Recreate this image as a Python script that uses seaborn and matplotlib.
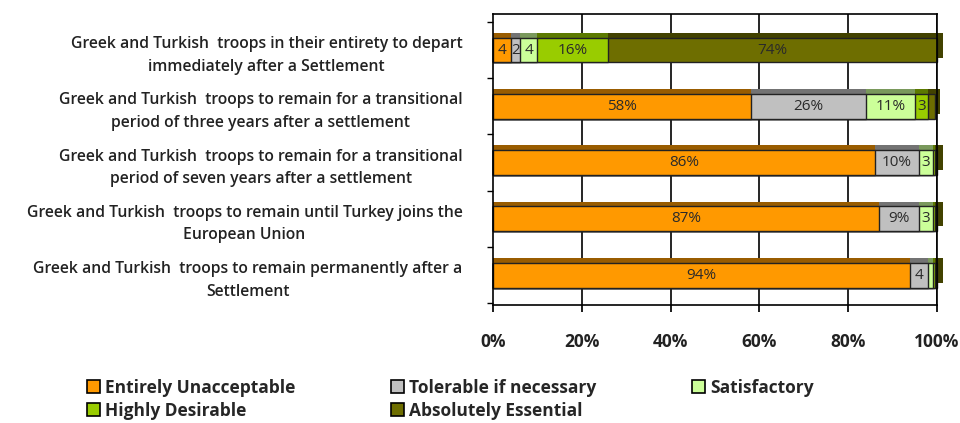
import numpy as np
import pandas as pd
import seaborn as sns
import matplotlib.pyplot as plt
import matplotlib.patheffects as pe

categories = [
    "Greek and Turkish  troops in their entirety to depart\nimmediately after a Settlement",
    "Greek and Turkish  troops to remain for a transitional\nperiod of three years after a settlement",
    "Greek and Turkish  troops to remain for a transitional\nperiod of seven years after a settlement",
    "Greek and Turkish  troops to remain until Turkey joins the\nEuropean Union",
    "Greek and Turkish  troops to remain permanently after a\nSettlement",
]
series = ["Entirely Unacceptable", "Tolerable if necessary", "Satisfactory",
          "Highly Desirable", "Absolutely Essential"]
entirely = [4, 58, 86, 87, 94]
tolerable = [2, 26, 10, 9, 4]
satisfactory = [4, 11, 3, 3, 1]
highly = [16, 3, 0.5, 0.5, 0.5]
absolutely = [74, 1.5, 0.5, 0.5, 0.5]
colors = ["#FF9900", "#C0C0C0", "#CCFF99", "#99CC00", "#6E6E00"]
xticks = [0, 20, 40, 60, 80, 100]

sns.set_theme(style="white")
plt.rcParams["font.family"] = ["Open Sans", "DejaVu Sans"]

vals = np.array([entirely, tolerable, satisfactory, highly, absolutely])
cum = np.cumsum(vals, axis=0)

fig = plt.figure(figsize=(9.6, 4.23), dpi=100)
ax = fig.add_axes([493 / 960, 1 - 305 / 423, (937 - 493) / 960, (305 - 14) / 423])

for x in xticks[1:]:
    ax.axvline(x, color="black", lw=1.2, zorder=0)

# overlay cumulative bars, longest first
for k in range(len(series) - 1, -1, -1):
    df = pd.DataFrame({"cat": categories, "val": cum[k]})
    sns.barplot(data=df, x="val", y="cat", orient="h", color=colors[k],
                saturation=1, width=0.44, edgecolor="#222222", linewidth=1,
                ax=ax, zorder=2)
    off = (4, 3.5) if k == len(series) - 1 else (0, 3.5)
    for p in ax.patches[-len(categories):]:
        p.set_clip_on(False)
        p.set_path_effects([pe.SimplePatchShadow(offset=off, rho=0.6, alpha=1), pe.Normal()])

for i in range(len(categories)):
    for k in range(len(series)):
        v = vals[k, i]
        if v < 2:
            continue
        txt = f"{v:g}%" if v >= 9 else f"{v:g}"
        ax.text(cum[k, i] - v / 2, i, txt, ha="center", va="center",
                fontsize=11, color="#2a2a2a", zorder=5)

ax.set_xlim(0, 100)
ax.set_ylim(4.53, -0.64)
ax.set_xticks(xticks)
ax.set_xticklabels([f"{x}%" for x in xticks], fontsize=12.5, fontweight="bold",
                   color="#222222")
ax.set_xlabel("")
ax.set_ylabel("")
ax.set_yticks(range(len(categories)))
ax.set_yticklabels(categories, fontsize=11.3, linespacing=1.55, color="#222222",
                   fontweight="semibold")
for t in ax.get_yticklabels():
    t.set_multialignment("center")
ax.tick_params(axis="y", length=0, pad=22)
ax.set_yticks(np.arange(-0.5, len(categories)), minor=True)
ax.tick_params(axis="y", which="minor", length=4, color="black", left=True)
ax.tick_params(axis="x", length=5, color="black", bottom=True, pad=15)
for s in ax.spines.values():
    s.set_color("black")
    s.set_linewidth(1.2)

handles = [plt.Rectangle((0, 0), 1, 1, facecolor=c, edgecolor="black", lw=1.2) for c in colors]
order = [0, 3, 1, 4, 2]
fig.legend([handles[i] for i in order], [series[i] for i in order],
           loc="upper left", bbox_to_anchor=(78 / 960, 1 - 370 / 423), ncol=3,
           frameon=False, prop={"size": 12.5, "weight": "bold"},
           handlelength=0.75, handleheight=0.75, handletextpad=0.3,
           columnspacing=5.5, labelspacing=0.3, borderpad=0)

fig.savefig("out.png", dpi=100)
